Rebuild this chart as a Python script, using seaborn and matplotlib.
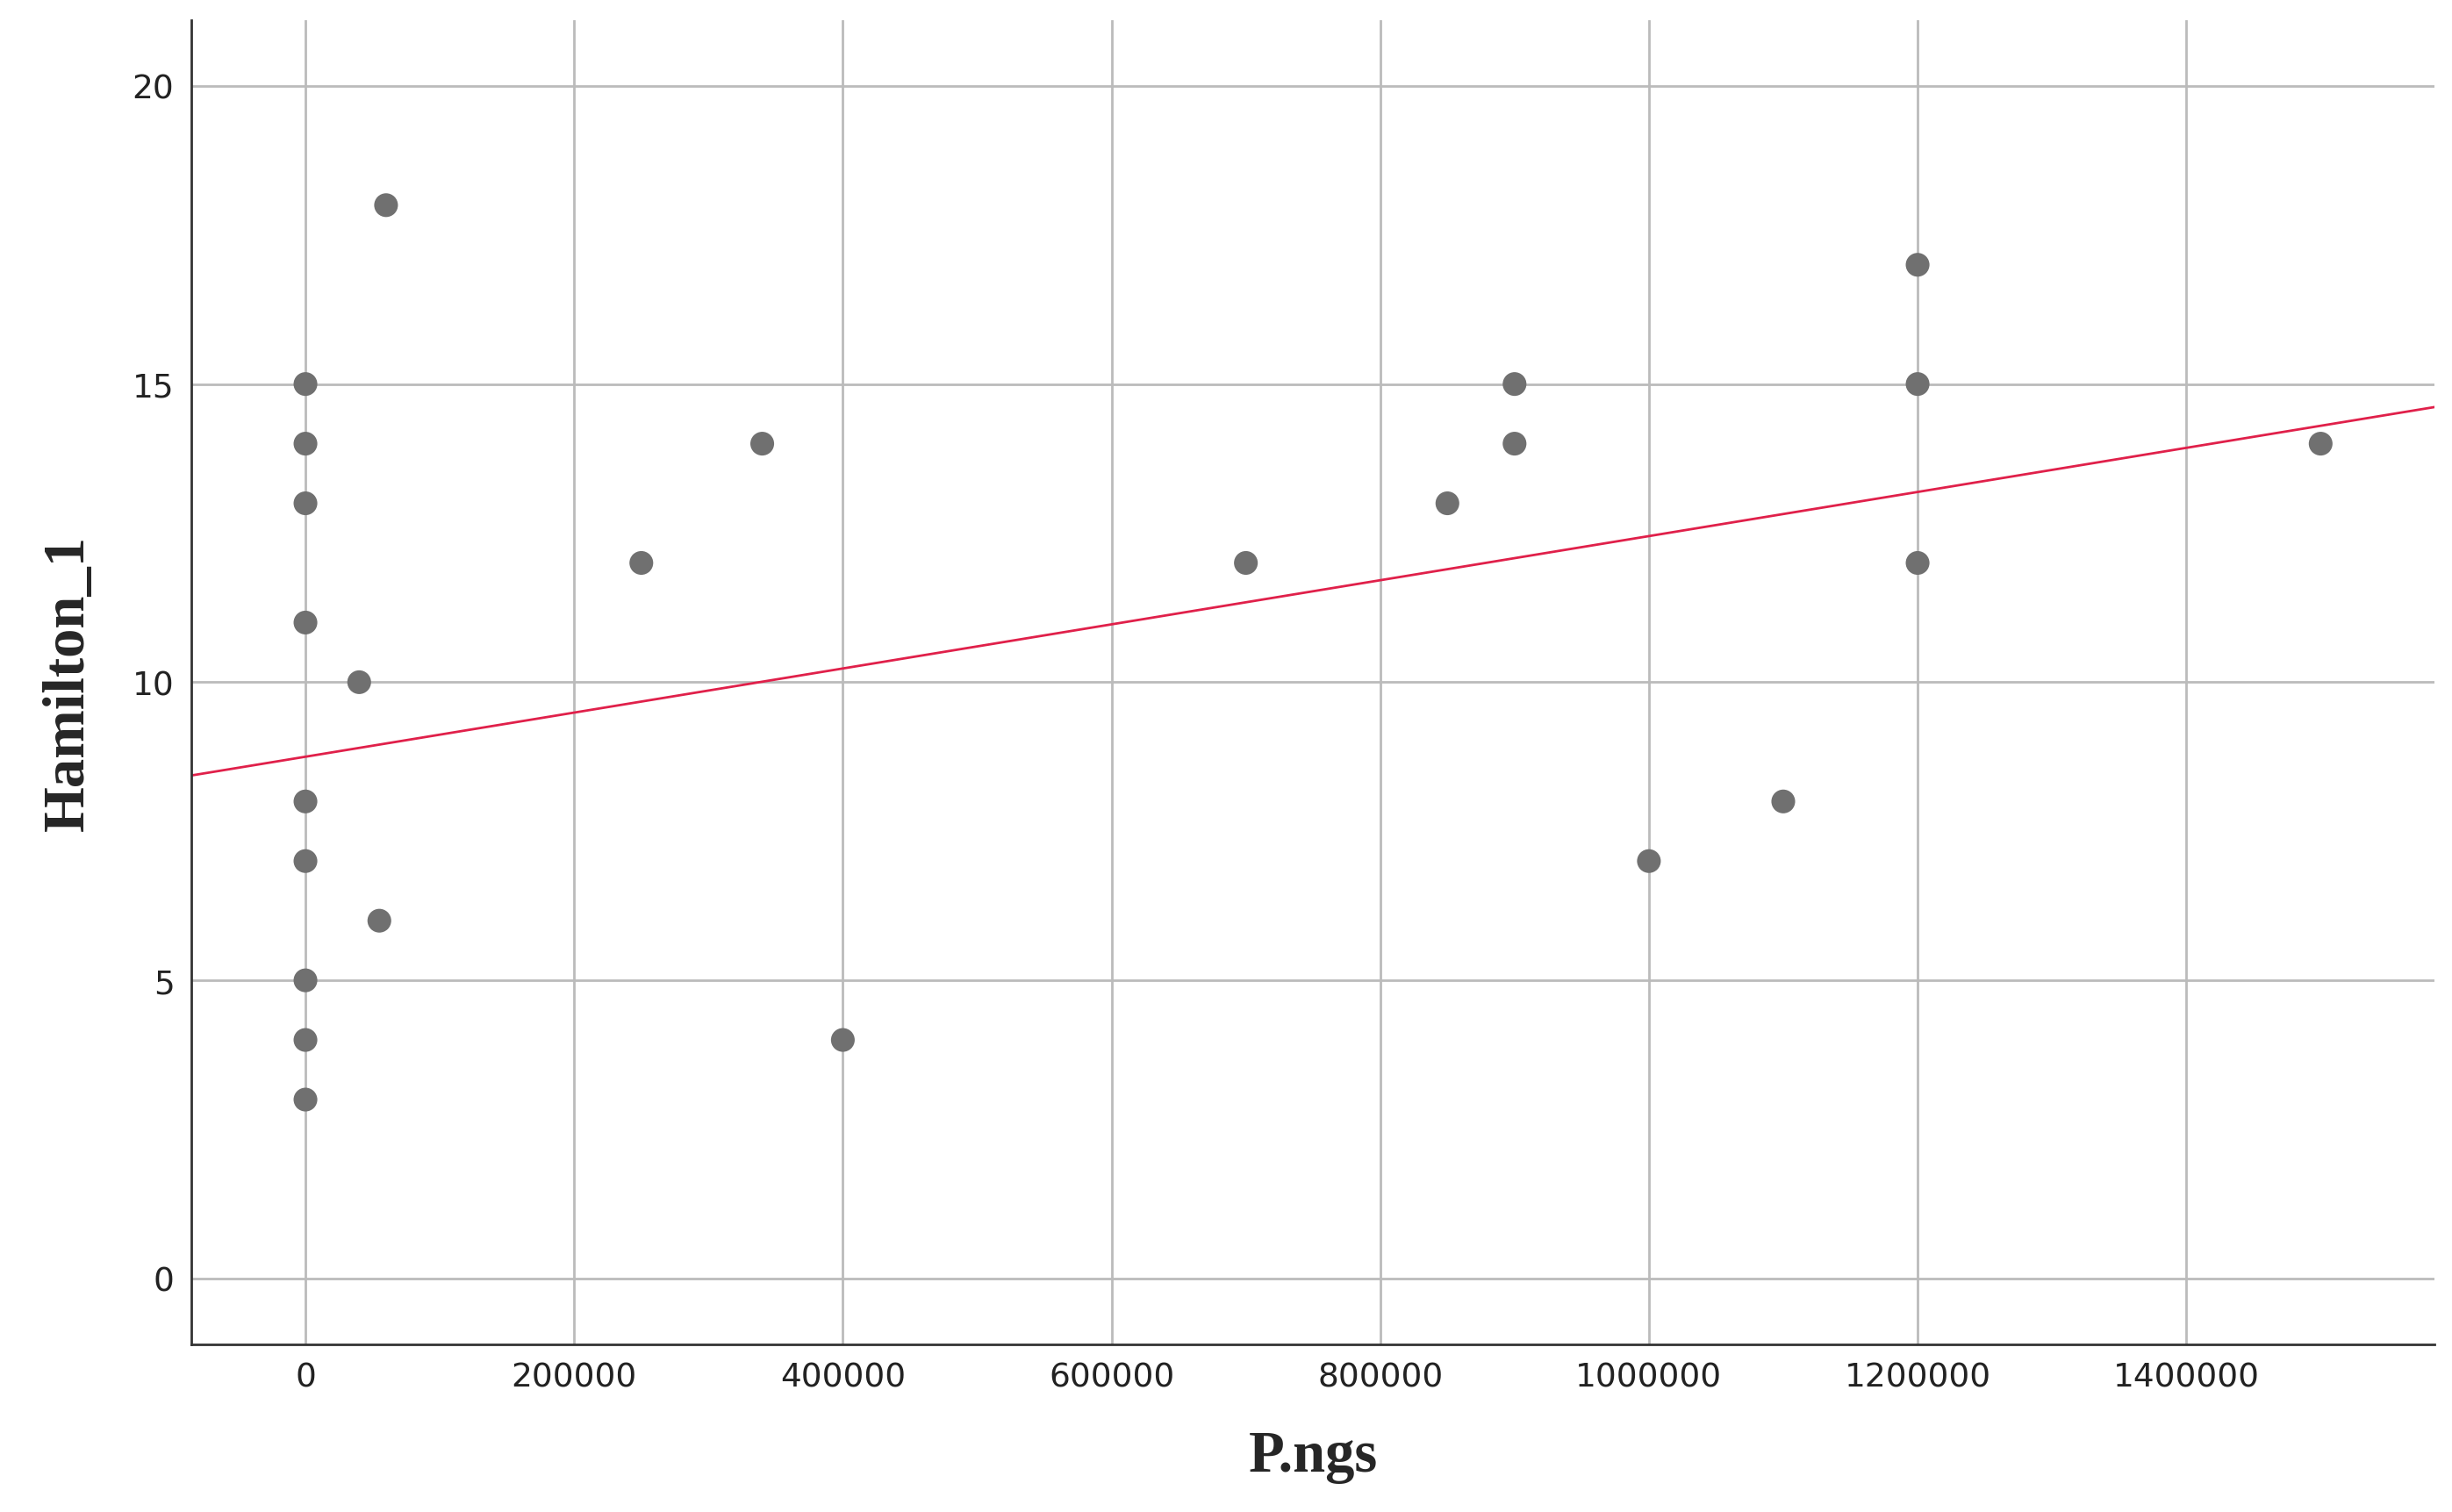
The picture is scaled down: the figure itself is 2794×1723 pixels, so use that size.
import seaborn as sns
import pandas as pd
import numpy as np
import matplotlib.pyplot as plt

png_values = [0, 0, 0, 0, 0, 0, 0, 0, 0, 60000, 40000, 55000, 250000, 340000, 400000,
              700000, 850000, 900000, 900000, 1000000, 1100000, 1200000, 1200000, 1200000, 1500000]
hamilton = [15, 14, 13, 11, 8, 7, 5, 4, 3, 18, 10, 6, 12, 14, 4,
            12, 13, 15, 14, 7, 8, 17, 15, 12, 14]

# fit line
fit_intercept = 8.75
fit_slope = 3.7e-6

df = pd.DataFrame({'P.ngs': png_values, 'Hamilton_1': hamilton})

sns.set_style('white')
fig = plt.figure(figsize=(27.94, 17.24), dpi=100)
ax = fig.add_axes([0.078, 0.111, 0.915, 0.875])

sns.scatterplot(data=df, x='P.ngs', y='Hamilton_1', ax=ax, color='#707070',
                s=380, marker='o', edgecolor='none', zorder=3)

xlim = (-85000, 1585000)
xs = np.array(xlim)
ax.plot(xs, fit_intercept + fit_slope * xs, color='#e0204a', lw=2, zorder=2)

ax.set_xlim(*xlim)
ax.set_ylim(-1.1, 21.1)
ax.set_xticks(range(0, 1400001, 200000))
ax.set_xticklabels([str(v) for v in range(0, 1400001, 200000)])
ax.set_yticks([0, 5, 10, 15, 20])
ax.grid(True, color='#bbbbbb', lw=2)
ax.set_axisbelow(True)
for s in ['top', 'right']:
    ax.spines[s].set_visible(False)
for s in ['left', 'bottom']:
    ax.spines[s].set_color('#333333')
    ax.spines[s].set_linewidth(2)
ax.tick_params(labelsize=27, colors='#222222', length=0, pad=14)

ax.set_xlabel('P.ngs', fontsize=48, fontweight='bold', family='Liberation Serif', labelpad=30)
ax.set_ylabel('Hamilton_1', fontsize=48, fontweight='bold', family='Liberation Serif', labelpad=30)

fig.savefig('out.png', dpi=100)
